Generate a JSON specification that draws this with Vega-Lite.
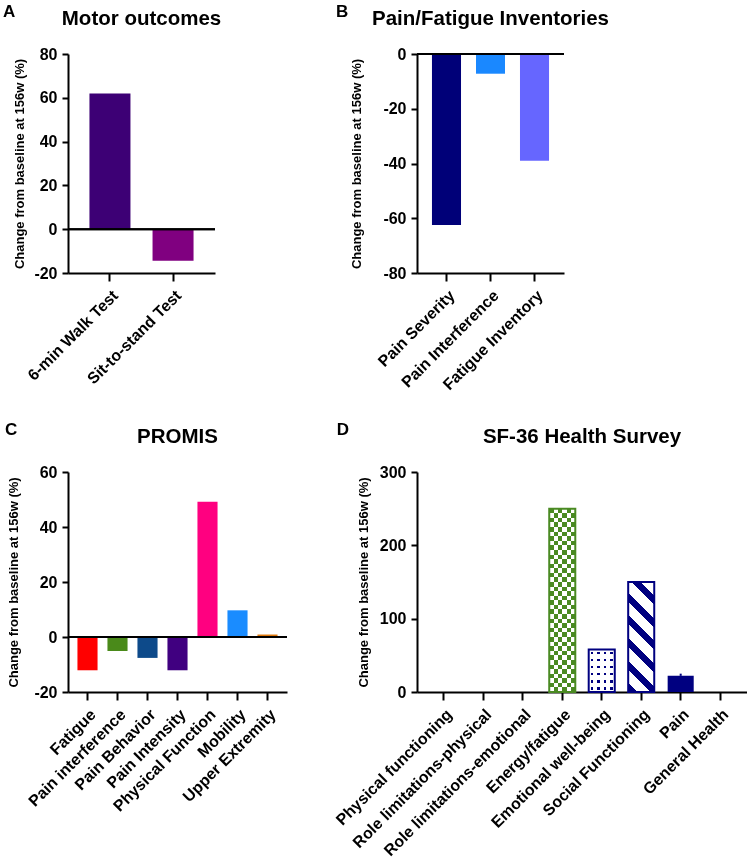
{
  "$schema": "https://vega.github.io/schema/vega-lite/v6.json",
  "background": "white",
  "padding": {"left": 2, "top": 2, "right": 0, "bottom": 0},
  "config": {
    "font": "Liberation Sans",
    "view": {"stroke": null},
    "axis": {"domainColor": "black", "domainWidth": 2, "tickColor": "black", "tickWidth": 2, "labelFont": "Liberation Sans", "labelFontWeight": "bold", "labelColor": "black", "titleFont": "Liberation Sans", "titleFontWeight": "bold", "titleColor": "black", "grid": false},
    "axisY": {"labelFontSize": 16, "tickSize": 6, "labelPadding": 5, "titleFontSize": 13, "labelExpr": "'' + datum.value"},
    "axisX": {"labelFontSize": 16, "labelAngle": -45, "tickSize": 8, "labelPadding": 6, "labelLimit": 400, "title": null},
    "title": {"font": "Liberation Sans", "fontSize": 20.5, "fontWeight": "bold", "color": "black", "offset": 17}
  },
  "datasets": {
    "motor": [
      {"test": "6-min Walk Test", "value": 62},
      {"test": "Sit-to-stand Test", "value": -14.4}
    ],
    "inv": [
      {"item": "Pain Severity", "value": -62.5},
      {"item": "Pain Interference", "value": -7.2},
      {"item": "Fatigue Inventory", "value": -39}
    ],
    "promis": [
      {"domain": "Fatigue", "value": -12.1},
      {"domain": "Pain interference", "value": -5.1},
      {"domain": "Pain Behavior", "value": -7.6},
      {"domain": "Pain Intensity", "value": -12.1},
      {"domain": "Physical Function", "value": 49.2},
      {"domain": "Mobility", "value": 9.7},
      {"domain": "Upper Extremity", "value": 0.9}
    ],
    "sf36": [
      {"subscale": "Physical functioning", "value": 0},
      {"subscale": "Role limitations-physical", "value": 0},
      {"subscale": "Role limitations-emotional", "value": 0},
      {"subscale": "Energy/fatigue", "value": 250},
      {"subscale": "Emotional well-being", "value": 58},
      {"subscale": "Social Functioning", "value": 150},
      {"subscale": "Pain", "value": 22, "upper": 25},
      {"subscale": "General Health", "value": 0}
    ]
  },
  "resolve": {"scale": {"x": "independent", "y": "independent", "color": "independent"}},
  "spacing": 27,
  "vconcat": [
    {
      "hconcat": [
        {
          "title": {"text": "A", "anchor": "start", "fontSize": 17, "dx": -11, "offset": -12},
          "vconcat": [
            {
              "title": "Motor outcomes",
              "width": 147, "height": 219,
              "data": {"name": "motor"},
              "layer": [
                {
                  "mark": {"type": "bar"},
                  "encoding": {
                    "x": {"field": "test", "type": "nominal", "sort": null, "scale": {"paddingInner": 0.35, "paddingOuter": 0.34}},
                    "y": {"field": "value", "type": "quantitative", "scale": {"domain": [-20, 80], "nice": false}, "axis": {"values": [-20, 0, 20, 40, 60, 80], "title": "Change from baseline at 156w (%)", "titlePadding": 7}},
                    "color": {"field": "test", "type": "nominal", "legend": null, "scale": {"domain": ["6-min Walk Test", "Sit-to-stand Test"], "range": ["#3d0075", "#800080"]}}
                  }
                },
                {"mark": {"type": "rule", "color": "black", "strokeWidth": 2}, "encoding": {"y": {"datum": 0}}}
              ]
            }
          ]
        },
        {
          "title": {"text": "B", "anchor": "start", "fontSize": 17, "dx": -15, "offset": -12},
          "vconcat": [
            {
              "title": "Pain/Fatigue Inventories",
              "width": 147, "height": 219,
              "data": {"name": "inv"},
              "layer": [
                {
                  "mark": {"type": "bar"},
                  "encoding": {
                    "x": {"field": "item", "type": "nominal", "sort": null, "scale": {"paddingInner": 0.34, "paddingOuter": 0.34}},
                    "y": {"field": "value", "type": "quantitative", "scale": {"domain": [-80, 0], "nice": false}, "axis": {"values": [-80, -60, -40, -20, 0], "title": "Change from baseline at 156w (%)", "titlePadding": 19}},
                    "color": {"field": "item", "type": "nominal", "legend": null, "scale": {"domain": ["Pain Severity", "Pain Interference", "Fatigue Inventory"], "range": ["#000078", "#1a88ff", "#6666ff"]}}
                  }
                },
                {"mark": {"type": "rule", "color": "black", "strokeWidth": 2}, "encoding": {"y": {"datum": 0}}}
              ]
            }
          ]
        }
      ],
      "spacing": 113,
      "resolve": {"scale": {"x": "independent", "y": "independent", "color": "independent"}}
    },
    {
      "hconcat": [
        {
          "title": {"text": "C", "anchor": "start", "fontSize": 17, "dx": -3, "offset": -12},
          "vconcat": [
            {
              "title": "PROMIS",
              "width": 219, "height": 220,
              "data": {"name": "promis"},
              "layer": [
                {
                  "mark": {"type": "bar"},
                  "encoding": {
                    "x": {"field": "domain", "type": "nominal", "sort": null, "scale": {"paddingInner": 0.33, "paddingOuter": 0.315}},
                    "y": {"field": "value", "type": "quantitative", "scale": {"domain": [-20, 60], "nice": false}, "axis": {"values": [-20, 0, 20, 40, 60], "title": "Change from baseline at 156w (%)", "titlePadding": 13}},
                    "color": {"field": "domain", "type": "nominal", "legend": null, "scale": {"domain": ["Fatigue", "Pain interference", "Pain Behavior", "Pain Intensity", "Physical Function", "Mobility", "Upper Extremity"], "range": ["#ff0000", "#4a8a1a", "#0d4a8a", "#400080", "#ff0080", "#1a8cff", "#e0780c"]}}
                  }
                },
                {"mark": {"type": "rule", "color": "black", "strokeWidth": 2}, "encoding": {"y": {"datum": 0}}}
              ]
            }
          ]
        },
        {
          "title": {"text": "D", "anchor": "start", "fontSize": 17, "dx": 4, "offset": -12},
          "vconcat": [
            {
              "title": "SF-36 Health Survey",
              "width": 330, "height": 220,
              "data": {"name": "sf36"},
              "encoding": {
                "x": {"field": "subscale", "type": "nominal", "sort": null, "scale": {"domain": ["Physical functioning", "Role limitations-physical", "Role limitations-emotional", "Energy/fatigue", "Emotional well-being", "Social Functioning", "Pain", "General Health"], "paddingInner": 0.34, "paddingOuter": 0.35}},
                "y": {"field": "value", "type": "quantitative", "scale": {"domain": [0, 300], "nice": false}, "axis": {"values": [0, 100, 200, 300], "title": "Change from baseline at 156w (%)", "titlePadding": 9}}
              },
              "layer": [
                {
                  "transform": [{"filter": "datum.subscale === 'Pain'"}],
                  "mark": {"type": "bar", "color": "#000080"}
                },
                {
                  "transform": [{"filter": "datum.subscale === 'Pain'"}],
                  "mark": {"type": "rule", "color": "#000080", "strokeWidth": 2},
                  "encoding": {"y2": {"field": "upper"}}
                },
                {
                  "transform": [{"filter": "datum.subscale === 'Energy/fatigue'"}],
                  "mark": {"type": "bar", "fill": {"gradient": "linear", "x1": 0, "y1": 0, "x2": 1, "y2": 0, "stops": [
                    {"offset": 0, "color": "black"}, {"offset": 0.1667, "color": "black"}, {"offset": 0.1667, "color": "white"}, {"offset": 0.3333, "color": "white"},
                    {"offset": 0.3333, "color": "black"}, {"offset": 0.5, "color": "black"}, {"offset": 0.5, "color": "white"}, {"offset": 0.6667, "color": "white"},
                    {"offset": 0.6667, "color": "black"}, {"offset": 0.8333, "color": "black"}, {"offset": 0.8333, "color": "white"}, {"offset": 1, "color": "white"}]}}
                },
                {
                  "transform": [{"filter": "datum.subscale === 'Energy/fatigue'"}],
                  "mark": {"type": "bar", "blend": "difference", "fill": {"gradient": "linear", "x1": 0, "y1": 0, "x2": 0, "y2": 1, "stops": [
                    {"offset": 0, "color": "black"}, {"offset": 0.025, "color": "black"}, {"offset": 0.025, "color": "white"}, {"offset": 0.05, "color": "white"},
                    {"offset": 0.05, "color": "black"}, {"offset": 0.075, "color": "black"}, {"offset": 0.075, "color": "white"}, {"offset": 0.1, "color": "white"},
                    {"offset": 0.1, "color": "black"}, {"offset": 0.125, "color": "black"}, {"offset": 0.125, "color": "white"}, {"offset": 0.15, "color": "white"},
                    {"offset": 0.15, "color": "black"}, {"offset": 0.175, "color": "black"}, {"offset": 0.175, "color": "white"}, {"offset": 0.2, "color": "white"},
                    {"offset": 0.2, "color": "black"}, {"offset": 0.225, "color": "black"}, {"offset": 0.225, "color": "white"}, {"offset": 0.25, "color": "white"},
                    {"offset": 0.25, "color": "black"}, {"offset": 0.275, "color": "black"}, {"offset": 0.275, "color": "white"}, {"offset": 0.3, "color": "white"},
                    {"offset": 0.3, "color": "black"}, {"offset": 0.325, "color": "black"}, {"offset": 0.325, "color": "white"}, {"offset": 0.35, "color": "white"},
                    {"offset": 0.35, "color": "black"}, {"offset": 0.375, "color": "black"}, {"offset": 0.375, "color": "white"}, {"offset": 0.4, "color": "white"},
                    {"offset": 0.4, "color": "black"}, {"offset": 0.425, "color": "black"}, {"offset": 0.425, "color": "white"}, {"offset": 0.45, "color": "white"},
                    {"offset": 0.45, "color": "black"}, {"offset": 0.475, "color": "black"}, {"offset": 0.475, "color": "white"}, {"offset": 0.5, "color": "white"},
                    {"offset": 0.5, "color": "black"}, {"offset": 0.525, "color": "black"}, {"offset": 0.525, "color": "white"}, {"offset": 0.55, "color": "white"},
                    {"offset": 0.55, "color": "black"}, {"offset": 0.575, "color": "black"}, {"offset": 0.575, "color": "white"}, {"offset": 0.6, "color": "white"},
                    {"offset": 0.6, "color": "black"}, {"offset": 0.625, "color": "black"}, {"offset": 0.625, "color": "white"}, {"offset": 0.65, "color": "white"},
                    {"offset": 0.65, "color": "black"}, {"offset": 0.675, "color": "black"}, {"offset": 0.675, "color": "white"}, {"offset": 0.7, "color": "white"},
                    {"offset": 0.7, "color": "black"}, {"offset": 0.725, "color": "black"}, {"offset": 0.725, "color": "white"}, {"offset": 0.75, "color": "white"},
                    {"offset": 0.75, "color": "black"}, {"offset": 0.775, "color": "black"}, {"offset": 0.775, "color": "white"}, {"offset": 0.8, "color": "white"},
                    {"offset": 0.8, "color": "black"}, {"offset": 0.825, "color": "black"}, {"offset": 0.825, "color": "white"}, {"offset": 0.85, "color": "white"},
                    {"offset": 0.85, "color": "black"}, {"offset": 0.875, "color": "black"}, {"offset": 0.875, "color": "white"}, {"offset": 0.9, "color": "white"},
                    {"offset": 0.9, "color": "black"}, {"offset": 0.925, "color": "black"}, {"offset": 0.925, "color": "white"}, {"offset": 0.95, "color": "white"},
                    {"offset": 0.95, "color": "black"}, {"offset": 0.975, "color": "black"}, {"offset": 0.975, "color": "white"}, {"offset": 1, "color": "white"}]}}
                },
                {
                  "transform": [{"filter": "datum.subscale === 'Energy/fatigue'"}],
                  "mark": {"type": "bar", "blend": "screen", "fill": "#4a8a22"}
                },
                {
                  "transform": [{"filter": "datum.subscale === 'Energy/fatigue'"}],
                  "mark": {"type": "bar", "fillOpacity": 0, "stroke": "#4a8a22", "strokeWidth": 2}
                },
                {
                  "transform": [{"filter": "datum.subscale === 'Emotional well-being'"}],
                  "mark": {"type": "bar", "fill": {"gradient": "linear", "x1": 0, "y1": 0, "x2": 1, "y2": 0, "stops": [
                    {"offset": 0, "color": "white"}, {"offset": 0.085, "color": "white"}, {"offset": 0.085, "color": "black"}, {"offset": 0.17, "color": "black"},
                    {"offset": 0.17, "color": "white"}, {"offset": 0.335, "color": "white"}, {"offset": 0.335, "color": "black"}, {"offset": 0.42, "color": "black"},
                    {"offset": 0.42, "color": "white"}, {"offset": 0.585, "color": "white"}, {"offset": 0.585, "color": "black"}, {"offset": 0.67, "color": "black"},
                    {"offset": 0.67, "color": "white"}, {"offset": 0.835, "color": "white"}, {"offset": 0.835, "color": "black"}, {"offset": 0.92, "color": "black"},
                    {"offset": 0.92, "color": "white"}, {"offset": 1, "color": "white"}]}}
                },
                {
                  "transform": [{"filter": "datum.subscale === 'Emotional well-being'"}],
                  "mark": {"type": "bar", "blend": "lighten", "fill": {"gradient": "linear", "x1": 0, "y1": 0, "x2": 0, "y2": 1, "stops": [
                    {"offset": 0, "color": "white"}, {"offset": 0.06, "color": "white"}, {"offset": 0.06, "color": "black"}, {"offset": 0.112, "color": "black"},
                    {"offset": 0.112, "color": "white"}, {"offset": 0.227, "color": "white"}, {"offset": 0.227, "color": "black"}, {"offset": 0.279, "color": "black"},
                    {"offset": 0.279, "color": "white"}, {"offset": 0.393, "color": "white"}, {"offset": 0.393, "color": "black"}, {"offset": 0.445, "color": "black"},
                    {"offset": 0.445, "color": "white"}, {"offset": 0.56, "color": "white"}, {"offset": 0.56, "color": "black"}, {"offset": 0.612, "color": "black"},
                    {"offset": 0.612, "color": "white"}, {"offset": 0.727, "color": "white"}, {"offset": 0.727, "color": "black"}, {"offset": 0.779, "color": "black"},
                    {"offset": 0.779, "color": "white"}, {"offset": 0.893, "color": "white"}, {"offset": 0.893, "color": "black"}, {"offset": 0.945, "color": "black"},
                    {"offset": 0.945, "color": "white"}, {"offset": 1, "color": "white"}]}}
                },
                {
                  "transform": [{"filter": "datum.subscale === 'Emotional well-being'"}],
                  "mark": {"type": "bar", "blend": "screen", "fill": "#000080"}
                },
                {
                  "transform": [{"filter": "datum.subscale === 'Emotional well-being'"}],
                  "mark": {"type": "bar", "fillOpacity": 0, "stroke": "#000080", "strokeWidth": 2}
                },
                {
                  "transform": [{"filter": "datum.subscale === 'Social Functioning'"}],
                  "mark": {"type": "bar", "stroke": "#000080", "strokeWidth": 2, "fill": {"gradient": "linear", "x1": 0, "y1": 1, "x2": 0.277, "y2": -0.171, "stops": [
                    {"offset": 0, "color": "#000080"}, {"offset": 0.0667, "color": "#000080"}, {"offset": 0.0667, "color": "white"}, {"offset": 0.1667, "color": "white"},
                    {"offset": 0.1667, "color": "#000080"}, {"offset": 0.2333, "color": "#000080"}, {"offset": 0.2333, "color": "white"}, {"offset": 0.3333, "color": "white"},
                    {"offset": 0.3333, "color": "#000080"}, {"offset": 0.4, "color": "#000080"}, {"offset": 0.4, "color": "white"}, {"offset": 0.5, "color": "white"},
                    {"offset": 0.5, "color": "#000080"}, {"offset": 0.5667, "color": "#000080"}, {"offset": 0.5667, "color": "white"}, {"offset": 0.6667, "color": "white"},
                    {"offset": 0.6667, "color": "#000080"}, {"offset": 0.7333, "color": "#000080"}, {"offset": 0.7333, "color": "white"}, {"offset": 0.8333, "color": "white"},
                    {"offset": 0.8333, "color": "#000080"}, {"offset": 0.9, "color": "#000080"}, {"offset": 0.9, "color": "white"}, {"offset": 1, "color": "white"}]}}
                }
              ]
            }
          ]
        }
      ],
      "spacing": 44,
      "resolve": {"scale": {"x": "independent", "y": "independent", "color": "independent"}}
    }
  ]
}
